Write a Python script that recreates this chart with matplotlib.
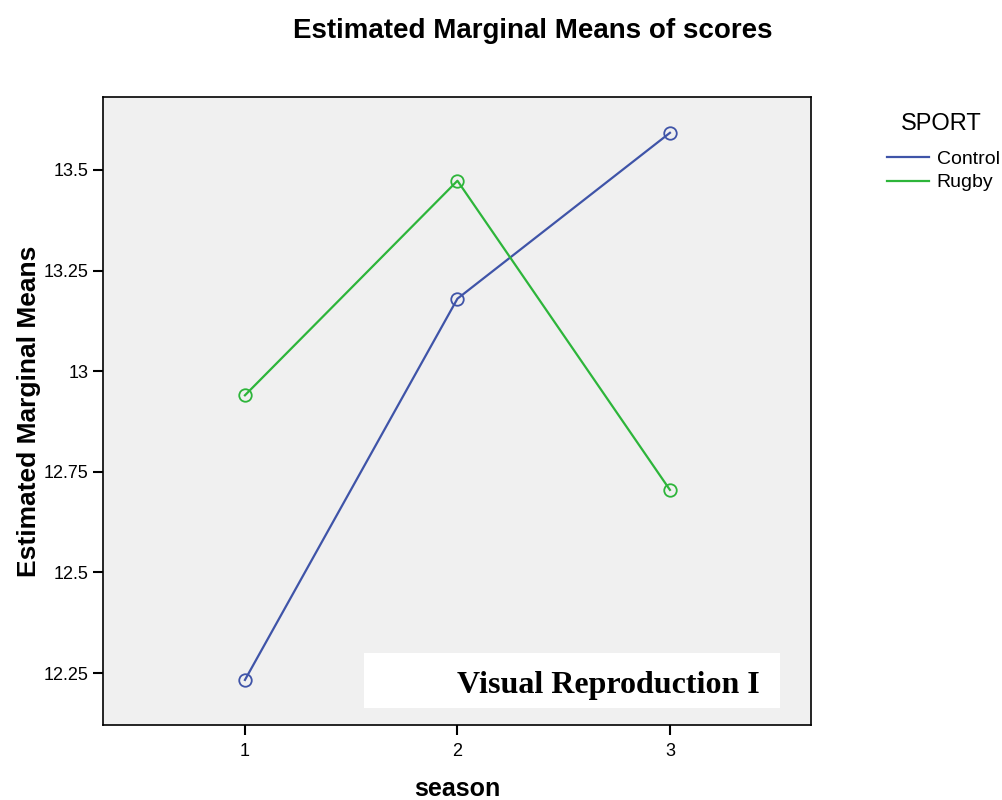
import matplotlib
matplotlib.use("Agg")
import matplotlib.pyplot as plt
from matplotlib.lines import Line2D
from matplotlib.patches import Rectangle

plt.rcParams['font.family'] = ['Liberation Sans', 'DejaVu Sans']

season = [1, 2, 3]
control = [12.233, 13.180, 13.592]
rugby = [12.940, 13.473, 12.705]
yticks = [12.25, 12.5, 12.75, 13, 13.25, 13.5]
ytick_labels = ['12.25', '12.5', '12.75', '13', '13.25', '13.5']

blue = '#3f54a8'
green = '#2db53a'

fig = plt.figure(figsize=(10.02, 8), dpi=100)
ax = fig.add_axes([0.1028, 0.09375, 0.7066, 0.785])
ax.set_facecolor('#f0f0f0')

ax.plot(season, control, color=blue, lw=1.6, marker='o', ms=9, mfc='none', mec=blue, mew=1.3)
ax.plot(season, rugby, color=green, lw=1.6, marker='o', ms=9, mfc='none', mec=green, mew=1.3)

ax.set_xlim(0.332, 3.664)
ax.set_ylim(12.121, 13.681)
ax.set_xticks(season)
ax.set_yticks(yticks)
ax.set_yticklabels(ytick_labels)
ax.tick_params(direction='out', length=7, width=1.5, labelsize=13, color='black')
ax.tick_params(axis='x', pad=6)
for s in ax.spines.values():
    s.set_linewidth(1.2)

ax.set_xlabel('season', fontsize=18, fontweight='bold', labelpad=12)
ax.set_ylabel('Estimated Marginal Means', fontsize=19, fontweight='bold', labelpad=2)
fig.suptitle('Estimated Marginal Means of scores', fontsize=20, fontweight='bold', x=0.532, y=0.978)

# white label box
ax.add_patch(Rectangle((0.3686, 0.0271), 0.5876, 0.0875, transform=ax.transAxes,
                       facecolor='white', edgecolor='none', zorder=3))
ax.text(0.928, 0.063, 'Visual Reproduction I', transform=ax.transAxes, ha='right', va='center',
        fontsize=23, fontweight='bold', family=['Liberation Serif'], zorder=4)

# legend
fig.text(0.939, 0.845, 'SPORT', ha='center', va='center', fontsize=17)
handles = [Line2D([], [], color=blue, lw=1.6), Line2D([], [], color=green, lw=1.6)]
leg = fig.legend(handles, ['Control', 'Rugby'], loc='upper left',
                 bbox_to_anchor=(0.885, 0.8125), frameon=False, fontsize=14,
                 handlelength=2.16, handletextpad=0.4, labelspacing=0.32,
                 borderpad=0, borderaxespad=0)

fig.savefig('out.png', dpi=100)
